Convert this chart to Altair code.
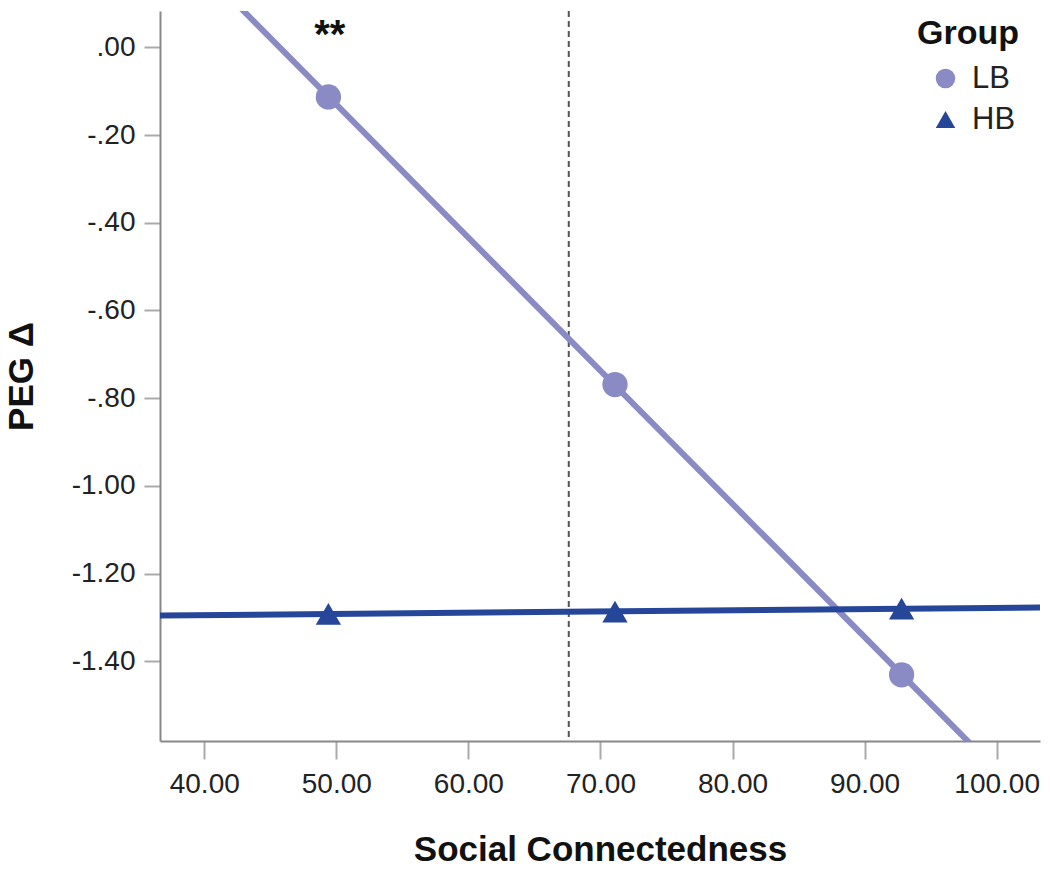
import altair as alt
import pandas as pd

groups = ["LB", "LB", "LB", "HB", "HB", "HB"]
social = [49.4, 71.1, 92.8, 49.4, 71.1, 92.8]
peg = [-0.113, -0.769, -1.431, -1.292, -1.287, -1.280]

jn_point = [67.6]
star_x = [49.5]
star_y = [0.026]
star_text = ["**"]

x_domain = [36.65, 103.28]
y_domain = [-1.582, 0.083]
x_ticks = [40, 50, 60, 70, 80, 90, 100]
y_ticks = [0.0, -0.2, -0.4, -0.6, -0.8, -1.0, -1.2, -1.4]

group_order = ["LB", "HB"]
group_colors = ["#8a8ac4", "#26469a"]
group_shapes = ["circle", "triangle-up"]

df = pd.DataFrame({"group": groups, "social": social, "peg": peg})
df_jn = pd.DataFrame({"x": jn_point})
df_star = pd.DataFrame({"x": star_x, "y": star_y, "t": star_text})

FONT = "Liberation Sans"

xs = alt.Scale(domain=x_domain, nice=False, zero=False)
ys = alt.Scale(domain=y_domain, nice=False, zero=False)

y_label_expr = (
    "(datum.value < -0.001 ? '-' : '') + "
    "(abs(datum.value) < 0.999 ? substring(format(abs(datum.value), '.2f'), 1) "
    ": format(abs(datum.value), '.2f'))"
)

x_axis = alt.Axis(
    values=x_ticks, format=".2f", title="Social Connectedness", grid=False,
    tickSize=18, labelPadding=11, titlePadding=34,
)
y_axis = alt.Axis(
    values=y_ticks, labelExpr=y_label_expr, title="PEG Δ", grid=False,
    tickSize=16, labelPadding=9, titlePadding=32,
)

color_scale = alt.Scale(domain=group_order, range=group_colors)
shape_scale = alt.Scale(domain=group_order, range=group_shapes)

legend = alt.Legend(
    orient="none", legendX=757, legendY=6, title="Group",
    titleFont=FONT, titleFontSize=34, titleFontWeight="bold", titleColor="#111111",
    labelFont=FONT, labelFontSize=31, labelColor="#222222",
    symbolSize=380, symbolOffset=13, labelOffset=11, rowPadding=9, titlePadding=12,
)

line_layers = []
for g, c in zip(group_order, group_colors):
    line_layers.append(
        alt.Chart(df).transform_filter(alt.datum.group == g).transform_regression(
            "social", "peg", extent=x_domain
        ).mark_line(strokeWidth=6, clip=True, color=c).encode(
            x=alt.X("social:Q", scale=xs, axis=x_axis),
            y=alt.Y("peg:Q", scale=ys, axis=y_axis),
        )
    )

points = alt.Chart(df).mark_point(filled=True, opacity=1, size=640).encode(
    x=alt.X("social:Q", scale=xs),
    y=alt.Y("peg:Q", scale=ys),
    color=alt.Color("group:N", scale=color_scale, sort=group_order, legend=legend),
    shape=alt.Shape("group:N", scale=shape_scale, sort=group_order, legend=legend),
)

jn = alt.Chart(df_jn).mark_rule(color="#555555", strokeWidth=2, strokeDash=[6, 4]).encode(
    x=alt.X("x:Q", scale=xs),
)

stars = alt.Chart(df_star).mark_text(
    font=FONT, fontSize=40, fontWeight="bold", color="#111111", baseline="middle"
).encode(
    x=alt.X("x:Q", scale=xs),
    y=alt.Y("y:Q", scale=ys),
    text="t:N",
)

chart = alt.layer(jn, *line_layers, points, stars).properties(
    width=880, height=730,
    autosize=alt.AutoSizeParams(type="none"),
    padding={"left": 152, "top": 3, "right": 2, "bottom": 125},
).configure_view(strokeWidth=0).configure_axis(
    domainColor="#888888", domainWidth=2, tickColor="#aaaaaa", tickWidth=2,
    labelFont=FONT, labelFontSize=28, labelColor="#222222",
    titleFont=FONT, titleFontSize=35, titleFontWeight="bold", titleColor="#111111",
)

chart.save("out.html", embed_options={"renderer": "svg", "actions": False})
